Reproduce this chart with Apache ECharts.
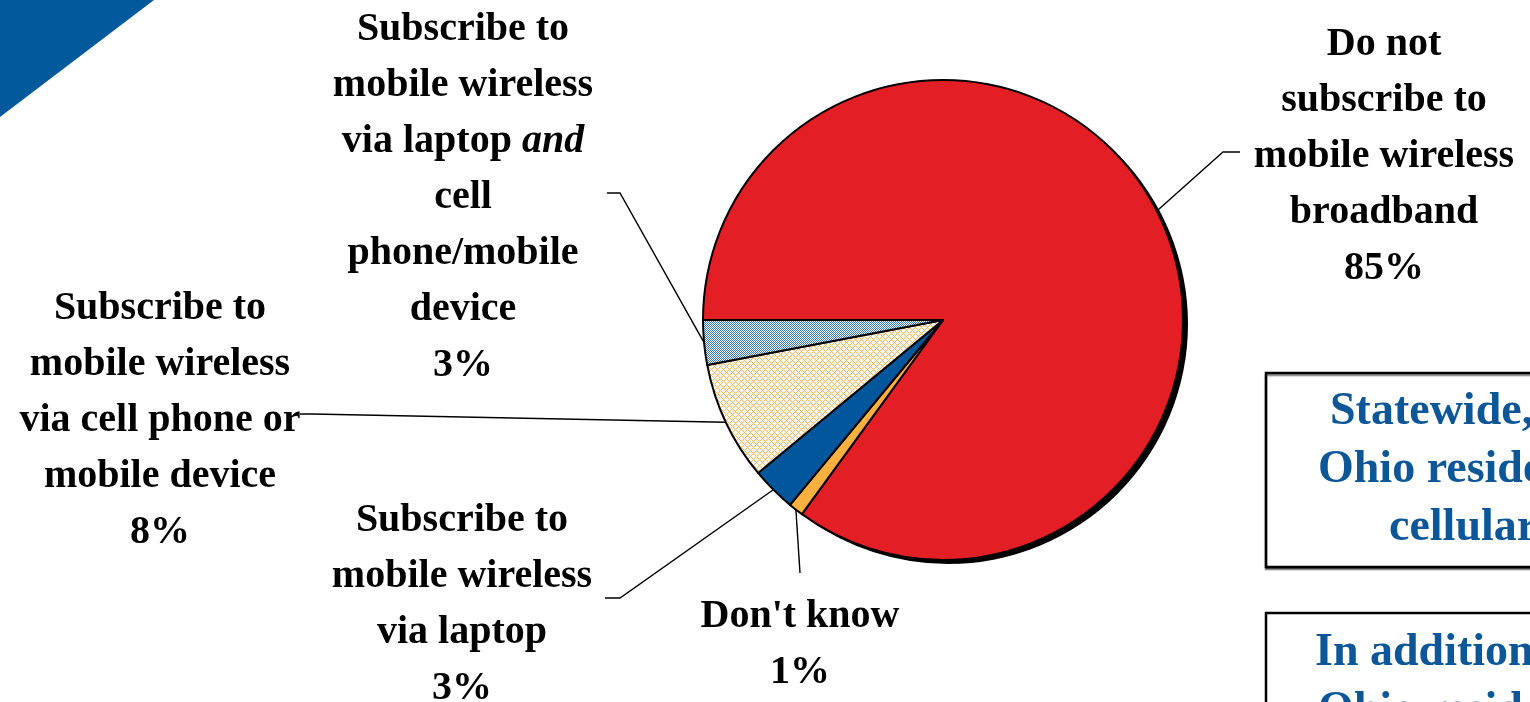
<!DOCTYPE html>
<html>
<head>
<meta charset="utf-8">
<script src="https://cdn.jsdelivr.net/npm/echarts@6/dist/echarts.min.js"></script>
<style>
  html, body { margin: 0; padding: 0; background: #ffffff; }
  #chart { width: 1530px; height: 702px; }
</style>
</head>
<body>
<div id="chart"></div>
<script>
// Mobile wireless broadband subscription, share of respondents (%)
const categories = [
  'Do not\nsubscribe to\nmobile wireless\nbroadband',
  "Don't know",
  'Subscribe to\nmobile wireless\nvia laptop',
  'Subscribe to\nmobile wireless\nvia cell phone or\nmobile device',
  'Subscribe to\nmobile wireless\nvia laptop and\ncell\nphone/mobile\ndevice'
];
const shares = [85, 1, 3, 8, 3];

// Callout text blocks on the right
const noteLines1 = ['Statewide,', 'Ohio residents', 'cellular'];
const noteLines2 = ['In addition,', 'Ohio residents'];

const FONT = '"Liberation Serif", "Times New Roman", serif';

// Label placement and leader-line bends, one per slice
const labelSpots = [
  { x: 1384, y: 157, bends: [[1223, 152], [1240, 152]] },
  { x: 800,  y: 645, bends: [[800, 573]] },
  { x: 462,  y: 605, bends: [[620, 598], [605, 598]] },
  { x: 160,  y: 421, bends: [[312, 414], [300, 414]] },
  { x: 463,  y: 198, bends: [[620, 193], [607, 193]] }
];

// Hatch tiles for the two patterned slices
function makeTile(bg, fg, mode) {
  const c = document.createElement('canvas');
  c.width = 6; c.height = 6;
  const g = c.getContext('2d');
  g.fillStyle = bg; g.fillRect(0, 0, 6, 6);
  g.fillStyle = fg;
  for (let y = 0; y < 6; y++) {
    for (let x = 0; x < 6; x++) {
      const onLattice = ((x + y) % 6 === 0) || ((x - y + 6) % 6 === 0);
      if (mode === 'lattice' && onLattice) g.fillRect(x, y, 1, 1);
      if (mode === 'dots' && !onLattice && ((x + y) % 2 === 1)) g.fillRect(x, y, 1, 1);
    }
  }
  return c;
}
const creamTile = makeTile('#fffaf2', '#f5b55c', 'lattice');
const blueTile = makeTile('#3a78b6', '#ffffff', 'dots');

const sliceColors = [
  '#e31e25',
  '#fbb040',
  '#02569b',
  { image: creamTile, repeat: 'repeat' },
  { image: blueTile, repeat: 'repeat' }
];

const chart = echarts.init(document.getElementById('chart'), null, { renderer: 'canvas' });

const pieData = categories.map((name, i) => ({
  name: name,
  value: shares[i],
  itemStyle: { color: sliceColors[i] }
}));

// Drop shadow: the same slices, offset down-right, only the large one inked
const shadowData = categories.map((name, i) => ({
  name: name,
  value: shares[i],
  itemStyle: { color: i === 0 ? '#000000' : 'rgba(0,0,0,0)' }
}));

const noteFont = 'bold 46px ' + FONT;

const option = {
  backgroundColor: '#ffffff',
  animation: false,
  graphic: [
    {
      type: 'polygon',
      z: 1,
      shape: { points: [[0, 0], [154, 0], [0, 117]] },
      style: { fill: '#02599c' }
    },
    {
      type: 'rect',
      z: 10,
      shape: { x: 1266, y: 373, width: 400, height: 194 },
      style: { fill: '#ffffff', stroke: '#000000', lineWidth: 2.5,
               shadowColor: 'rgba(0,0,0,0.45)', shadowOffsetY: 2, shadowBlur: 1 }
    },
    {
      type: 'rect',
      z: 10,
      shape: { x: 1266, y: 613, width: 400, height: 200 },
      style: { fill: '#ffffff', stroke: '#000000', lineWidth: 2.5 }
    }
  ].concat(
    noteLines1.map((t, i) => ({
      type: 'text', z: 20, x: [1330, 1318, 1389][i], y: 412 + i * 58,
      style: { text: t, fill: '#0d5799', font: noteFont, textAlign: 'left', textVerticalAlign: 'middle' }
    })),
    noteLines2.map((t, i) => ({
      type: 'text', z: 20, x: [1315, 1318][i], y: 653 + i * 58,
      style: { text: t, fill: '#0d5799', font: noteFont, textAlign: 'left', textVerticalAlign: 'middle' }
    }))
  ),
  series: [
    {
      type: 'pie',
      center: [948, 324],
      radius: 240,
      startAngle: 180,
      clockwise: true,
      silent: true,
      z: 1,
      label: { show: false },
      labelLine: { show: false },
      data: shadowData
    },
    {
      type: 'pie',
      center: [943, 320],
      radius: 240,
      startAngle: 180,
      clockwise: true,
      avoidLabelOverlap: false,
      minShowLabelAngle: 0,
      silent: true,
      z: 2,
      itemStyle: { borderColor: '#000000', borderWidth: 2 },
      label: {
        show: true,
        position: 'outside',
        color: '#000000',
        fontFamily: FONT,
        fontWeight: 'bold',
        fontSize: 40,
        lineHeight: 56,
        align: 'center',
        formatter: function (p) {
          return p.name.replace('laptop and', 'laptop {i|and}') + '\n' + p.value + '%';
        },
        rich: {
          i: { fontFamily: FONT, fontWeight: 'bold', fontStyle: 'italic', fontSize: 40, lineHeight: 56, color: '#000000' }
        }
      },
      labelLine: {
        show: true,
        length: 20,
        length2: 10,
        lineStyle: { color: '#000000', width: 1.4 }
      },
      labelLayout: function (p) {
        const s = labelSpots[p.dataIndex];
        const out = { x: s.x, y: s.y, align: 'center', verticalAlign: 'middle' };
        if (p.labelLinePoints && p.labelLinePoints.length) {
          out.labelLinePoints = [p.labelLinePoints[0]].concat(s.bends);
        }
        return out;
      },
      data: pieData
    }
  ]
};

chart.setOption(option);
</script>
</body>
</html>
